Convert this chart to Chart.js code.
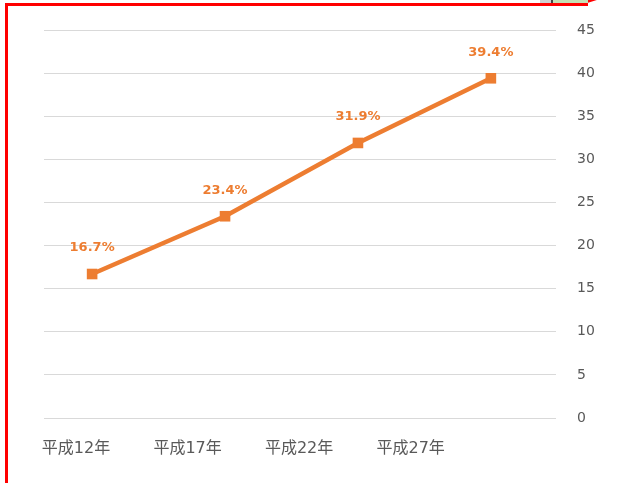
<!DOCTYPE html>
<html>
<head>
<meta charset="utf-8">
<script src="https://cdn.jsdelivr.net/npm/chart.js@4/dist/chart.umd.min.js"></script>
<style>
  html, body { margin: 0; padding: 0; background: #fff; }
  #wrap { position: relative; width: 625px; height: 483px; overflow: hidden; }
  #chart { position: absolute; left: 0; top: 0; }
  .frameL { position: absolute; left: 5px; top: 3px; width: 3px; height: 480px; background: #ff0000; }
  .frameT { position: absolute; left: 5px; top: 3px; width: 583px; height: 3px; background: #ff0000; }
  .frameD { position: absolute; left: 584px; top: 1px; width: 18px; height: 3px; background: #ff0000; transform: rotate(-18deg); transform-origin: left top; }
  .tabGray { position: absolute; left: 540px; top: 0; width: 11px; height: 3px; background: #d0d0d0; border-right: 2px solid #444; }
  .tabGreen { position: absolute; left: 553px; top: 0; width: 35px; height: 3px; background: #c5e0b4; }
</style>
</head>
<body>
<div id="wrap">
  <canvas id="chart" width="625" height="483"></canvas>
  <div class="frameL"></div>
  <div class="frameT"></div>
  <div class="frameD"></div>
  <div class="tabGray"></div>
  <div class="tabGreen"></div>
</div>
<script>
// data
const years = ['平成12年', '平成17年', '平成22年', '平成27年'];
const ratio = [16.7, 23.4, 31.9, 39.4];
const yTicks = [0, 5, 10, 15, 20, 25, 30, 35, 40, 45];

const orange = '#ed7d31';
const grey = '#595959';

const pointLabels = {
  id: 'pointLabels',
  afterDatasetsDraw(chart) {
    const ctx = chart.ctx;
    const meta = chart.getDatasetMeta(0);
    ctx.save();
    ctx.font = 'bold 13px "DejaVu Sans", sans-serif';
    ctx.fillStyle = orange;
    ctx.textAlign = 'center';
    ctx.textBaseline = 'middle';
    meta.data.forEach((pt, i) => {
      ctx.fillText(ratio[i].toFixed(1) + '%', pt.x, pt.y - 26);
    });
    ctx.restore();
  }
};

const intTicks = (scale) => {
  scale.ticks = years.map((_, i) => ({value: i}));
};

new Chart(document.getElementById('chart'), {
  type: 'line',
  data: {
    datasets: [{
      data: ratio.map((v, i) => ({x: i, y: v})),
      borderColor: orange,
      backgroundColor: orange,
      borderWidth: 4.5,
      pointStyle: 'rect',
      pointRadius: 7.5,
      pointBorderWidth: 0,
      tension: 0,
      xAxisID: 'x'
    }]
  },
  options: {
    responsive: false,
    animation: false,
    events: [],
    layout: { padding: { left: 44, top: 30, right: 0, bottom: 0 } },
    plugins: { legend: { display: false }, tooltip: { enabled: false } },
    scales: {
      x: {
        type: 'linear',
        display: false,
        min: -0.362,
        max: 3.49
      },
      xl: {
        type: 'linear',
        position: 'bottom',
        min: -0.287,
        max: 4.303,
        afterBuildTicks: intTicks,
        afterFit: (s) => { s.height = 65; },
        grid: { display: false },
        border: { display: false },
        ticks: {
          padding: 13,
          color: grey,
          font: { family: '"DejaVu Sans", "Noto Sans CJK JP", sans-serif', size: 16 },
          callback: (v) => years[v],
          maxRotation: 0
        }
      },
      y: {
        position: 'right',
        min: 0,
        max: 45,
        afterBuildTicks: (s) => { s.ticks = yTicks.map(v => ({value: v})); },
        afterFit: (s) => { s.width = 69; },
        grid: { color: '#d9d9d9', lineWidth: 1, drawTicks: false },
        border: { display: false },
        ticks: {
          padding: 21,
          color: grey,
          font: { family: '"DejaVu Sans", sans-serif', size: 14 }
        }
      }
    }
  },
  plugins: [pointLabels]
});
</script>
</body>
</html>
